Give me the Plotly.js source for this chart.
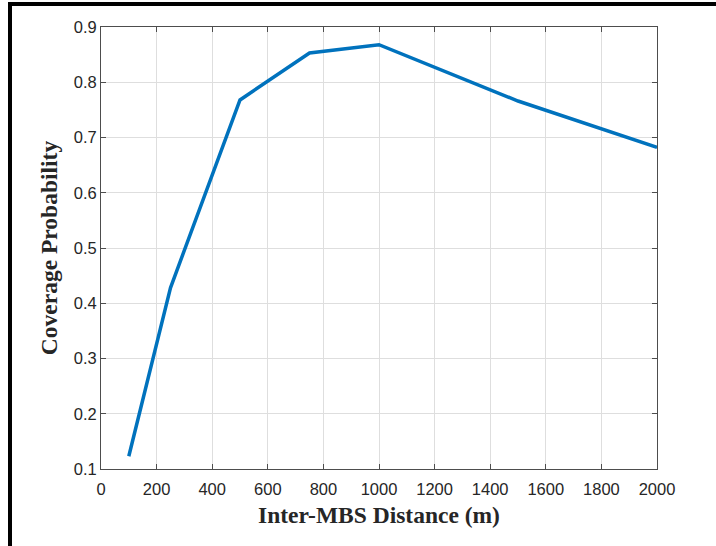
<!DOCTYPE html>
<html>
<head>
<meta charset="utf-8">
<script src="https://cdn.plot.ly/plotly-3.0.1.min.js"></script>
<style>
  html, body { margin: 0; padding: 0; background: #fff; }
  #wrap { position: relative; width: 716px; height: 546px; overflow: hidden; }
  #chart { position: absolute; left: 0; top: 0; width: 716px; height: 546px; }
  .edge { position: absolute; background: #000; }
</style>
</head>
<body>
<div id="wrap">
  <div id="chart"></div>
  <div class="edge" style="left:8px; top:2px; width:708px; height:4px;"></div>
  <div class="edge" style="left:8px; top:2px; width:4px; height:544px;"></div>
</div>
<script>
// Inter-MBS distance (m) and resulting coverage probability
const distance = [100, 250, 500, 750, 1000, 1500, 2000];
const coverage = [0.123, 0.428, 0.768, 0.853, 0.868, 0.766, 0.682];

const xTicks = [0, 200, 400, 600, 800, 1000, 1200, 1400, 1600, 1800, 2000];
const yTicks = [0.1, 0.2, 0.3, 0.4, 0.5, 0.6, 0.7, 0.8, 0.9];

const trace = {
  x: distance,
  y: coverage,
  type: 'scatter',
  mode: 'lines',
  line: { color: '#0072BD', width: 3.5 },
  hoverinfo: 'skip'
};

const axisCommon = {
  showline: true,
  linecolor: '#4d4d4d',
  linewidth: 1,
  mirror: 'ticks',
  ticks: 'inside',
  ticklen: 5,
  tickcolor: '#4d4d4d',
  showgrid: true,
  gridcolor: '#dedede',
  gridwidth: 1,
  zeroline: false,
  tickfont: { family: 'Liberation Sans, Arial, sans-serif', size: 16.5, color: '#262626' }
};

const titleFont = { family: 'Liberation Serif, Times New Roman, serif', size: 23.5, color: '#262626', weight: 'bold' };

const layout = {
  width: 716,
  height: 546,
  margin: { l: 101, r: 59, t: 27, b: 77 },
  paper_bgcolor: '#ffffff',
  plot_bgcolor: '#ffffff',
  showlegend: false,
  xaxis: Object.assign({}, axisCommon, {
    range: [0, 2000],
    tickmode: 'array',
    tickvals: xTicks,
    ticktext: xTicks.map(String),
    ticklabelstandoff: 5,
    title: { text: 'Inter-MBS Distance (m)', font: titleFont, standoff: 9 }
  }),
  yaxis: Object.assign({}, axisCommon, {
    range: [0.1, 0.9],
    tickmode: 'array',
    tickvals: yTicks,
    ticktext: yTicks.map(v => v.toFixed(1)),
    title: { text: 'Coverage Probability', font: titleFont, standoff: 9 }
  })
};

Plotly.newPlot('chart', [trace], layout, { staticPlot: true, displayModeBar: false });
</script>
</body>
</html>
